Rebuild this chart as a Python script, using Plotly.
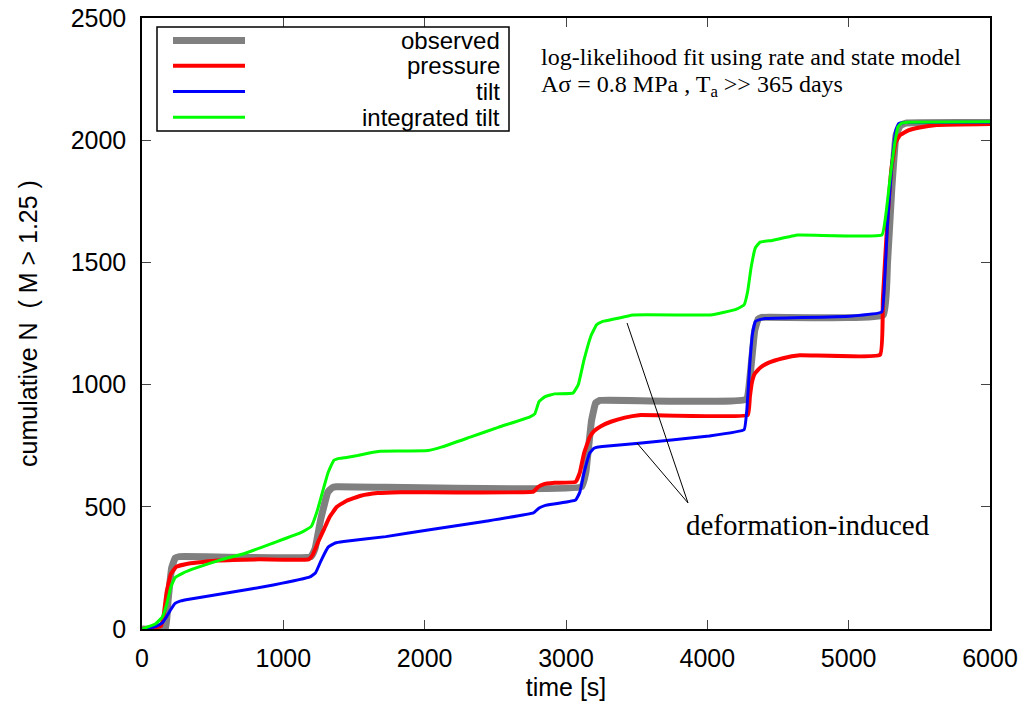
import plotly.graph_objects as go

# ---------------- data ----------------
observed_t = [0, 165, 185, 210, 235, 265, 1195, 1225, 1265, 1315, 1345, 1375, 3110, 3140, 3180, 3210, 3240,
              4275, 4305, 4335, 4360, 4385, 5245, 5275, 5305, 5335, 5365, 5405, 6000]
observed_N = [0, 0, 120, 250, 290, 296, 296, 330, 450, 560, 578, 582, 582, 640, 850, 925, 935,
              940, 1050, 1220, 1268, 1275, 1285, 1500, 1800, 2020, 2060, 2070, 2072]

pressure_t = [0, 134, 154, 174, 204, 244, 333, 532, 831, 1179, 1209, 1249, 1289, 1329, 1379, 1448, 1548, 1667,
              1827, 2770, 2800, 2840, 2919, 3068, 3098, 3128, 3168, 3198, 3247, 3317, 3416, 3515, 4286, 4301,
              4316, 4336, 4376, 4435, 4535, 4654, 5222, 5242, 5272, 5302, 5332, 5362, 5422, 5502, 5622, 6000]
pressure_N = [0, 12, 60, 150, 225, 255, 268, 280, 285, 285, 305, 360, 410, 460, 500, 525, 545, 556,
              560, 562, 580, 592, 598, 602, 640, 720, 785, 810, 830, 848, 865, 875, 876, 950,
              1010, 1045, 1070, 1090, 1108, 1120, 1122, 1350, 1650, 1880, 1990, 2020, 2040, 2052, 2062, 2066]

tilt_t = [0, 94, 144, 174, 204, 234, 274, 333, 631, 929, 1188, 1228, 1267, 1317, 1367, 1427, 1725, 2024, 2421,
          2770, 2810, 2849, 3068, 3098, 3128, 3168, 3198, 3228, 3277, 3516, 4012, 4260, 4280, 4300, 4320, 4340,
          4370, 4409, 5006, 5234, 5254, 5274, 5303, 5333, 5353, 5403, 6000]
tilt_N = [0, 10, 25, 50, 80, 105, 115, 122, 150, 180, 213, 230, 280, 335, 352, 358, 378, 405, 440,
          475, 495, 505, 528, 560, 640, 720, 740, 745, 748, 760, 790, 815, 900, 1080, 1210, 1258,
          1266, 1270, 1280, 1297, 1420, 1650, 1880, 2040, 2068, 2072, 2073]

itilt_t = [0, 94, 144, 174, 204, 234, 290, 383, 552, 731, 929, 1128, 1198, 1238, 1277, 1317, 1357, 1397, 1447,
           1526, 1625, 1685, 2024, 2123, 2322, 2520, 2745, 2779, 2809, 2849, 2918, 3049, 3087, 3127, 3177, 3216,
           3256, 3316, 3475, 4019, 4111, 4211, 4260, 4285, 4310, 4340, 4373, 4459, 4641, 5235, 5264, 5294, 5324,
           5349, 5374, 5423, 6000]
itilt_N = [0, 20, 49, 100, 172, 210, 229, 250, 282, 310, 352, 395, 420, 480, 560, 640, 690, 698, 702,
           710, 722, 727, 730, 745, 785, 825, 868, 880, 930, 950, 962, 965, 1000, 1100, 1200, 1245,
           1258, 1265, 1285, 1285, 1295, 1310, 1326, 1380, 1480, 1560, 1583, 1590, 1612, 1612, 1700, 1850, 1980,
           2055, 2070, 2073, 2075]

series_names = ["observed", "pressure", "tilt", "integrated tilt"]
series_colors = ["#808080", "#ff0000", "#0000ff", "#00ff00"]
series_widths = [7, 4, 3, 3]

x_ticks = [0, 1000, 2000, 3000, 4000, 5000, 6000]
y_ticks = [0, 500, 1000, 1500, 2000, 2500]

# ---------------- figure ----------------
W, H = 1026, 713
L, R, T, B = 142, 36, 18, 84
PW, PH = W - L - R, H - T - B


def px(x):
    return (x - L) / PW


def py(y):
    return (H - B - y) / PH


fig = go.Figure()
data = [(observed_t, observed_N), (pressure_t, pressure_N), (tilt_t, tilt_N), (itilt_t, itilt_N)]
for (t, n), name, c, w in zip(data, series_names, series_colors, series_widths):
    fig.add_trace(go.Scatter(x=t, y=n, mode="lines", name=name,
                             line=dict(color=c, width=w, shape="spline", smoothing=0.3),
                             showlegend=False))

sans = "Liberation Sans, Arial, sans-serif"
serif = "Liberation Serif, Times New Roman, serif"
FS = 25

fig.update_layout(
    width=W, height=H,
    margin=dict(l=L, r=R, t=T, b=B),
    paper_bgcolor="white", plot_bgcolor="white",
    font=dict(family=sans, size=FS, color="black"),
    xaxis=dict(range=[0, 6000], tickvals=x_ticks, ticks="inside", ticklen=9, tickwidth=1.2,
               showline=True, linecolor="black", linewidth=1.5, mirror="ticks", showgrid=False,
               zeroline=False, automargin=False, ticklabelstandoff=6,
               title=dict(text="time [s]", standoff=8, font=dict(size=FS)), tickfont=dict(size=FS)),
    yaxis=dict(range=[0, 2500], tickvals=y_ticks, ticks="inside", ticklen=9, tickwidth=1.2,
               showline=True, linecolor="black", linewidth=1.5, mirror="ticks", showgrid=False,
               zeroline=False, automargin=False, ticklabelstandoff=9,
               title=dict(text="cumulative N  ( M > 1.25 )", standoff=26, font=dict(size=FS)),
               tickfont=dict(size=FS)),
)

# legend box (manual, right-aligned text like the original)
shapes = [dict(type="rect", xref="paper", yref="paper", x0=px(157), x1=px(509), y0=py(131), y1=py(27),
               line=dict(color="black", width=1.5), fillcolor="white", layer="above")]
rows = [40.5, 65.7, 91.5, 117.3]
annotations = []
for r, name, c, w in zip(rows, series_names, series_colors, series_widths):
    shapes.append(dict(type="line", xref="paper", yref="paper", x0=px(173), x1=px(245), y0=py(r), y1=py(r),
                       line=dict(color=c, width=w), layer="above"))
    annotations.append(dict(xref="paper", yref="paper", x=px(502), y=py(r), text=name, showarrow=False,
                            xanchor="right", yanchor="middle", font=dict(family=sans, size=24)))

# pointer lines for "deformation-induced"
shapes.append(dict(type="line", x0=3863, y0=516, x1=3432, y1=1252, line=dict(color="black", width=1)))
shapes.append(dict(type="line", x0=3863, y0=516, x1=3502, y1=761, line=dict(color="black", width=1)))

annotations.append(dict(x=4712, y=425, text="deformation-induced", showarrow=False,
                        xanchor="center", yanchor="middle", font=dict(family=serif, size=29)))
annotations.append(dict(xref="paper", yref="paper", x=px(539), y=py(57),
                        text="log-likelihood fit using rate and state model", showarrow=False,
                        xanchor="left", yanchor="middle", font=dict(family=serif, size=24)))
annotations.append(dict(xref="paper", yref="paper", x=px(539), y=py(86),
                        text="Aσ = 0.8 MPa , T<sub>a</sub> >> 365 days", showarrow=False,
                        xanchor="left", yanchor="middle", font=dict(family=serif, size=24)))

fig.update_layout(shapes=shapes, annotations=annotations)
fig.write_html("out.html")
